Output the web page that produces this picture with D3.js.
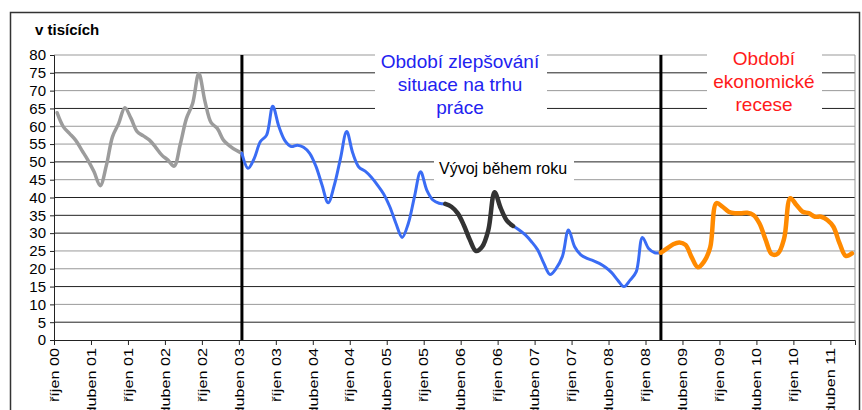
<!DOCTYPE html>
<html><head><meta charset="utf-8">
<script src="https://cdn.jsdelivr.net/npm/d3@7"></script>
<style>body{margin:0;background:#fff}svg{display:block;font-family:"Liberation Sans",Arial,sans-serif}</style>
</head><body><svg id="c" width="862" height="410"></svg>
<script>
// Monthly values (thousands), starting říjen 2000 (index 0)
const grayValues = [63.8,59.9,58,56.1,53.3,50.5,47.2,43.3,49,57.1,60.8,65.2,62.2,58.5,57.3,56.1,54.1,51.9,50.5,48.8,55,62.2,66.4,74.8,67,61,59.4,56.1,54.5,53.3,52.4]; // idx 0..30
const blueValues = [52.4,48.2,51,55.7,57.5,65.6,59.9,55.9,54.3,54.7,54.1,52.4,48.8,43.5,38.5,43.5,51,58.5,52.4,48.5,47.4,45.7,43.5,41,37.4,32.7,28.8,32.7,40.2,47.2,42.1,39.3,38.4,38.2,37.4,35.6,32.3,28.1,25,26.2,30.9,41.5,37,33.5,32,30.9,29.5,27.6,25.3,21.5,18.4,20.1,23.4,30.9,26.2,23.9,22.9,22.3,21.5,20.4,18.9,16.8,15,16.8,19.2,28.8,25.7,24.5,24.5]; // idx 30..98
const orangeValues = [24.5,25.7,26.9,27.4,26.7,23.2,20.4,22,26,38.4,37.4,36,35.6,35.6,35.7,35.1,32.7,28.1,24.1,24.3,28.5,39.8,37.9,36,35.6,34.6,34.6,33.7,31.8,27.1,23.6,24.3]; // idx 98..129
const grayStart = 0, blueStart = 30, orangeStart = 98;
const blackRange = [63, 74]; // "Vývoj během roku"
const dividers = [30, 98];
const nMonths = 130;
const tickLabels = ["říjen 00","duben 01","říjen 01","duben 02","říjen 02","duben 03","říjen 03","duben 04","říjen 04","duben 05","říjen 05","duben 06","říjen 06","duben 07","říjen 07","duben 08","říjen 08","duben 09","říjen 09","duben 10","říjen 10","duben 11"];
const yTicks = d3.range(0, 81, 5);
const grayGrid = [80,70,60,55,45,25,20,10];

const svg = d3.select("#c");
const L = 54, R = 855, T = 55, B = 340;
const x = d3.scaleLinear().domain([0, nMonths]).range([L, R]);
const y = d3.scaleLinear().domain([0, 80]).range([B, T]);

// outer frame
svg.append("rect").attr("x",10.5).attr("y",12.5).attr("width",849).attr("height",420)
  .attr("fill","none").attr("stroke","#333").attr("stroke-width",1.5);

// gridlines
svg.append("g").selectAll("line").data(yTicks.filter(d=>d>0)).join("line")
  .attr("x1",L).attr("x2",R).attr("y1",d=>y(d)).attr("y2",d=>y(d))
  .attr("stroke",d=>grayGrid.includes(d)?"#999":"#222").attr("stroke-width",1);
// right border
svg.append("line").attr("x1",R).attr("x2",R).attr("y1",T).attr("y2",B).attr("stroke","#999");

// y axis
const ya = svg.append("g").attr("transform",`translate(${L},0)`)
  .call(d3.axisLeft(y).tickValues(yTicks).tickSize(4).tickPadding(4));
ya.select(".domain").attr("stroke","#222");
ya.selectAll(".tick line").attr("stroke","#222");
ya.selectAll("text").attr("font-size",15).attr("fill","#000").attr("font-family","Liberation Sans, Arial, sans-serif");

// x axis
const tickPos = tickLabels.map((d,i)=>i*6);
const xa = svg.append("g").attr("transform",`translate(0,${B})`)
  .call(d3.axisBottom(x).tickValues(tickPos).tickSize(5).tickFormat(""));
xa.select(".domain").attr("stroke","#222");
xa.selectAll(".tick line").attr("stroke","#222");
svg.append("g").selectAll("text").data(tickLabels).join("text")
  .attr("transform",(d,i)=>`translate(${x(tickPos[i])},348) rotate(-90) scale(1.2,1)`)
  .attr("text-anchor","end").attr("dy","0.35em").attr("font-size",13.5).attr("fill","#000")
  .text(d=>d);

// title
svg.append("text").attr("x",35).attr("y",35).attr("font-size",15).attr("font-weight","bold").text("v tisících");

// text boxes
function box(x0,y0,w,h){svg.append("rect").attr("x",x0).attr("y",y0).attr("width",w).attr("height",h).attr("fill","#fff");}
box(375,48,172,68);
box(707,48,115,68);
box(434,151,140,36);

// divider lines
svg.append("g").selectAll("line").data(dividers).join("line")
  .attr("x1",d=>x(d+0.5)).attr("x2",d=>x(d+0.5)).attr("y1",T).attr("y2",B)
  .attr("stroke","#000").attr("stroke-width",3);

// series
const line = d3.line().x(d=>x(d[0]+0.5)).y(d=>y(d[1])).curve(d3.curveCatmullRom.alpha(0.5));
function seg(vals, start, from, to){ return vals.map((v,k)=>[start+k,v]).filter(d=>d[0]>=from && d[0]<=to); }
const g = svg.append("g").attr("fill","none").attr("stroke-linejoin","round").attr("stroke-linecap","round");
g.append("path").attr("d",line(seg(grayValues,grayStart,0,30))).attr("stroke","#9c9c9c").attr("stroke-width",3.5);
g.append("path").attr("d",line(seg(blueValues,blueStart,30,blackRange[0]))).attr("stroke","#3a6cf4").attr("stroke-width",3);
g.append("path").attr("d",line(seg(blueValues,blueStart,blackRange[1],98))).attr("stroke","#3a6cf4").attr("stroke-width",3);
g.append("path").attr("d",line(seg(blueValues,blueStart,blackRange[0],blackRange[1]))).attr("stroke","#333").attr("stroke-width",4.5);
g.append("path").attr("d",line(seg(orangeValues,orangeStart,98,129))).attr("stroke","#ff8a00").attr("stroke-width",4.5);

// annotations
function ml(lines, cx, y0, color, fs){
  lines.forEach((t,i)=>svg.append("text").attr("x",cx).attr("y",y0+i*23).attr("text-anchor","middle")
    .attr("font-size",fs).attr("fill",color).text(t));
}
ml(["Období zlepšování","situace na trhu","práce"], 460, 68, "#2222f0", 19);
ml(["Období","ekonomické","recese"], 764, 65, "#ff1a1a", 19);
svg.append("text").attr("x",503).attr("y",174).attr("text-anchor","middle").attr("font-size",16).attr("fill","#000").text("Vývoj během roku");
</script></body></html>
